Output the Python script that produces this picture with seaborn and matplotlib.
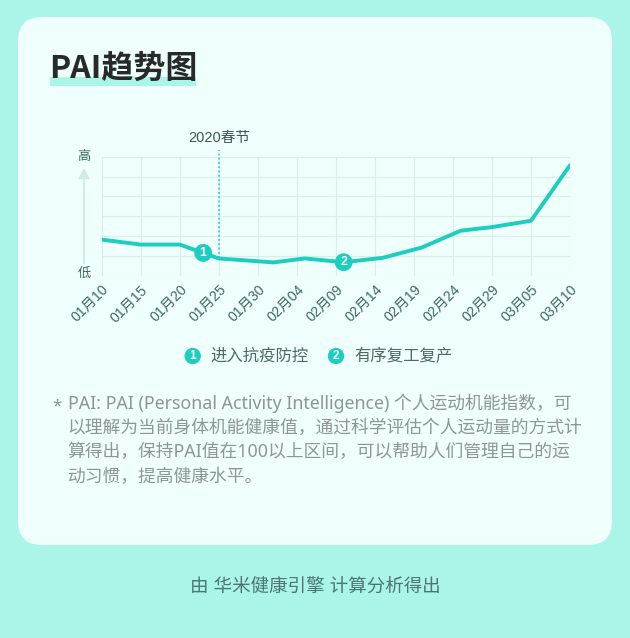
import matplotlib
matplotlib.use("Agg")
import matplotlib.pyplot as plt
import seaborn as sns
import pandas as pd
import numpy as np
from matplotlib.patches import FancyBboxPatch, Rectangle

# ---------------- data ----------------
dates = ["2020-01-10", "2020-01-15", "2020-01-20", "2020-01-25", "2020-02-01",
         "2020-02-05", "2020-02-10", "2020-02-15", "2020-02-20", "2020-02-25",
         "2020-02-29", "2020-03-05", "2020-03-10"]
values = [1.82, 1.57, 1.57, 0.87, 0.67, 0.87, 0.68, 0.90, 1.42, 2.27, 2.45, 2.77, 5.57]

tick_dates = ["2020-01-10", "2020-01-15", "2020-01-20", "2020-01-25", "2020-01-30",
              "2020-02-04", "2020-02-09", "2020-02-14", "2020-02-19", "2020-02-24",
              "2020-02-29", "2020-03-05", "2020-03-10"]
tick_labels = ["01月10", "01月15", "01月20", "01月25", "01月30", "02月04", "02月09",
               "02月14", "02月19", "02月24", "02月29", "03月05", "03月10"]

event_dates = ["2020-01-23", "2020-02-10"]
event_labels = ["1", "2"]
legend_labels = ["进入抗疫防控", "有序复工复产"]
festival_date = "2020-01-25"
festival_label = "2020春节"

title = "PAI趋势图"
note_lines = ["PAI: PAI (Personal Activity Intelligence) 个人运动机能指数，可",
              "以理解为当前身体机能健康值，通过科学评估个人运动量的方式计",
              "算得出，保持PAI值在100以上区间，可以帮助人们管理自己的运",
              "动习惯，提高健康水平。"]
footer = "由 华米健康引擎 计算分析得出"

# ---------------- style ----------------
sns.set_theme(style="white")
MIX = ["Liberation Sans", "Noto Sans CJK SC", "DejaVu Sans"]
NOTE = ["Noto Sans", "Noto Sans CJK SC", "DejaVu Sans"]
plt.rcParams["font.family"] = MIX

BG = "#aaf5e7"
CARD = "#effffb"
TEAL = "#1ccdc0"
GRID = "#d8eee8"
TICK = "#3f6662"

W, H = 630, 638
fig = plt.figure(figsize=(W / 100, H / 100), dpi=100)
fig.patch.set_facecolor(BG)

# overlay in pixel coordinates
bg = fig.add_axes([0, 0, 1, 1], zorder=-1)
bg.set_xlim(0, W)
bg.set_ylim(H, 0)
bg.axis("off")
bg.add_patch(FancyBboxPatch((18, 17), 594, 528,
                            boxstyle="round,pad=0,rounding_size=24",
                            facecolor=CARD, edgecolor="none"))
bg.add_patch(Rectangle((50, 77), 146, 9, facecolor=BG, edgecolor="none"))
bg.text(49, 69, title, fontsize=23, fontweight="heavy", color="#262a2a",
        va="center", ha="left", family=["Noto Sans CJK SC", "DejaVu Sans"])

# ---------------- chart ----------------
l, r, t, b = 101.7, 570, 156.7, 275.7
ax = fig.add_axes([l / W, 1 - b / H, (r - l) / W, (b - t) / H])
ax.set_facecolor("none")

df = pd.DataFrame({"date": pd.to_datetime(dates), "value": values})
sns.lineplot(data=df, x="date", y="value", ax=ax, color=TEAL, linewidth=2.8,
             zorder=3, solid_capstyle="round")

ax.set_xlim(pd.Timestamp(tick_dates[0]), pd.Timestamp(tick_dates[-1]))
ax.set_ylim(0, 6)
ax.set_xticks(pd.to_datetime(tick_dates))
ax.set_xticklabels(tick_labels, rotation=45, ha="right", va="top",
                   rotation_mode="anchor", fontsize=10.2, color=TICK)
ax.set_yticks(np.arange(0, 7, 1))
ax.set_yticklabels([])
ax.tick_params(axis="both", length=0, pad=5)
ax.grid(True, color=GRID, linewidth=0.8)
for s in ax.spines.values():
    s.set_visible(False)
ax.set_xlabel("")
ax.set_ylabel("")

# festival dotted line
xnum = df["date"].map(pd.Timestamp.toordinal).to_numpy()
fest = pd.Timestamp(festival_date)
fest_val = np.interp(fest.toordinal(), xnum, values)
ax.plot([fest, fest], [fest_val, 6.36], color=TEAL, linestyle=(0, (1.2, 1.6)),
        linewidth=1.1, zorder=2, clip_on=False)
ax.text(fest, 6.95, festival_label, ha="center", va="center", fontsize=10.5,
        color="#3c5a57", clip_on=False)

# event markers
for d, lab in zip(event_dates, event_labels):
    dt = pd.Timestamp(d)
    v = np.interp(dt.toordinal(), xnum, values)
    ax.scatter([dt], [v], s=165, color=TEAL, zorder=5, edgecolors="none", clip_on=False)
    ax.text(dt, v, lab, color="white", fontsize=9, fontweight="bold",
            ha="center", va="center", zorder=6, family=["Liberation Sans", "DejaVu Sans"])

# y-axis high/low with arrow
bg.text(84, 157, "高", fontsize=9.5, color=TICK, ha="center", va="center")
bg.text(84, 274, "低", fontsize=9.5, color=TICK, ha="center", va="center")
bg.annotate("", xy=(84, 165), xytext=(84, 266),
            arrowprops=dict(arrowstyle="-|>,head_length=0.5,head_width=0.25",
                            color="#cdeae3", linewidth=1.3))

# legend
for cx, tx, lab, txt in [(192.7, 210, "1", legend_labels[0]),
                         (336, 354.5, "2", legend_labels[1])]:
    bg.scatter([cx], [356], s=138, color=TEAL, edgecolors="none")
    bg.text(cx, 356, lab, color="white", fontsize=8.5, fontweight="bold",
            ha="center", va="center", family=["Liberation Sans", "DejaVu Sans"])
    bg.text(tx, 356, txt, fontsize=11.8, color="#4d6a66", ha="left", va="center")

# footnote
bg.text(57, 407, "*", fontsize=12, color="#8e9694", ha="center", va="center",
        family=NOTE)
for i, line in enumerate(note_lines):
    bg.text(67.5, 403 + i * 24.6, line, fontsize=12.8, color="#8e9694",
            ha="left", va="center", family=NOTE)

# footer
bg.text(315, 587, footer, fontsize=13.3, color="#4b7770", ha="center", va="center")

fig.savefig("out.png", dpi=100, facecolor=BG)
